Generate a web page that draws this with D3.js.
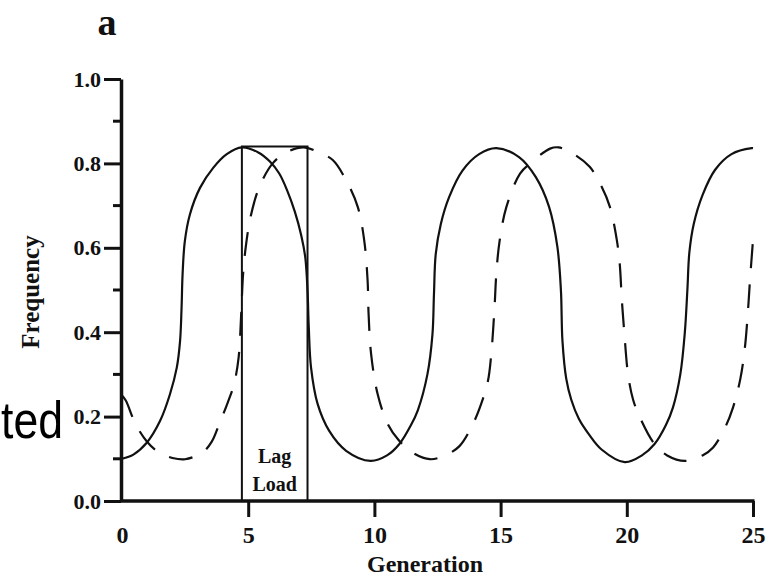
<!DOCTYPE html>
<html>
<head>
<meta charset="utf-8">
<script src="https://cdn.jsdelivr.net/npm/d3@7"></script>
<style>
  body { margin: 0; background: #fff; }
  svg { display: block; }
  .tick text { font-family: "Liberation Serif", "Times New Roman", serif; font-weight: bold; fill: #111; }
</style>
</head>
<body>
<div id="chart"></div>
<script>
  // values
  let solidGen = [0, 0.45, 0.98, 1.51, 1.9, 2.17, 2.3, 2.36, 2.4, 2.49, 2.69, 3.09, 3.62, 4.15, 4.75,
    5.4, 5.85, 6.23, 6.55, 6.85, 7.1, 7.26, 7.35, 7.4, 7.49, 7.75, 8.21, 8.88, 9.85,
    10.5, 10.99, 11.45, 11.72, 12.1, 12.3, 12.36, 12.43, 12.63, 12.96, 13.49, 14.15, 14.83,
    15.73, 16.39, 16.92, 17.25, 17.39, 17.45, 17.6, 17.8, 18.1, 18.5, 19.0, 19.92,
    20.6, 21.1, 21.55, 21.83, 22.12, 22.3, 22.4, 22.48, 22.65, 23.0, 23.5, 24.15, 24.95, 25];
  let solidFreq = [0.10, 0.11, 0.138, 0.19, 0.253, 0.316, 0.379, 0.458, 0.537, 0.616, 0.679, 0.742, 0.79, 0.822, 0.838,
    0.826, 0.805, 0.776, 0.735, 0.685, 0.63, 0.578, 0.499, 0.412, 0.316, 0.23, 0.166, 0.119, 0.095,
    0.108, 0.135, 0.18, 0.215, 0.30, 0.395, 0.49, 0.585, 0.656, 0.72, 0.783, 0.822, 0.836,
    0.815, 0.768, 0.697, 0.602, 0.499, 0.38, 0.29, 0.24, 0.195, 0.158, 0.122, 0.092,
    0.108, 0.135, 0.18, 0.222, 0.30, 0.40, 0.50, 0.59, 0.656, 0.725, 0.785, 0.822, 0.836, 0.836];

  let dashedGen = [0, 0.15, 0.54, 1.0, 1.47, 2.0, 2.5, 3.19, 3.55, 3.85, 4.2, 4.44, 4.62, 4.72, 4.8, 4.92, 5.1, 5.44, 5.97, 6.5, 7.2,
    7.8, 8.35, 8.88, 9.34, 9.6, 9.73, 9.77, 9.87, 10.13, 10.53, 10.95, 11.5, 12.2,
    12.8, 13.37, 13.9, 14.23, 14.5, 14.63, 14.76, 14.83, 14.96, 15.23, 15.77, 16.17, 16.96, 17.3,
    17.9, 18.53, 19.0, 19.33, 19.6, 19.72, 19.8, 19.9, 20.05, 20.25, 20.52, 21.1, 21.6, 22.3,
    23.0, 23.42, 23.9, 24.21, 24.5, 24.68, 24.8, 24.88, 25];
  let dashedFreq = [0.25, 0.238, 0.182, 0.14, 0.115, 0.102, 0.099, 0.115, 0.14, 0.182, 0.235, 0.277, 0.34, 0.44, 0.54, 0.61, 0.675, 0.744, 0.80, 0.826, 0.838,
    0.826, 0.808, 0.76, 0.697, 0.616, 0.523, 0.443, 0.348, 0.253, 0.182, 0.145, 0.115, 0.099,
    0.108, 0.13, 0.182, 0.23, 0.285, 0.348, 0.459, 0.538, 0.616, 0.697, 0.776, 0.80, 0.835, 0.838,
    0.822, 0.792, 0.745, 0.697, 0.62, 0.562, 0.48, 0.40, 0.30, 0.24, 0.198, 0.135, 0.108, 0.095,
    0.108, 0.127, 0.175, 0.222, 0.29, 0.364, 0.45, 0.523, 0.618];

  let xTicks = [0, 5, 10, 15, 20, 25];
  let yTicks = [0, 0.2, 0.4, 0.6, 0.8, 1.0];
  let yMinor = [0.1, 0.3, 0.5, 0.7, 0.9];
  let lagBox = [4.75, 7.35, 0.84]; // from, to, height

  let width = 771;
  let height = 578;
  let ink = '#111';

  let svg = d3.select('#chart')
  .append('svg')
  .attr('width', width)
  .attr('height', height);

  let x = d3.scaleLinear().domain([0, 25]).range([122, 753]);
  let y = d3.scaleLinear().domain([0, 1]).range([501, 79]);

  let line = d3.line()
  .x((d) => x(d[0]))
  .y((d) => y(d[1]))
  .curve(d3.curveCatmullRom.alpha(0.5));

  svg.append('path')
  .datum(d3.zip(solidGen, solidFreq))
  .attr('d', line)
  .attr('fill', 'none')
  .attr('stroke', ink)
  .attr('stroke-width', 2.2);

  svg.append('path')
  .datum(d3.zip(dashedGen, dashedFreq))
  .attr('d', line)
  .attr('fill', 'none')
  .attr('stroke', ink)
  .attr('stroke-width', 2.2)
  .attr('stroke-dasharray', '24,16');

  // lag load box
  svg.append('path')
  .attr('d', `M${x(lagBox[0])},${y(0)}V${y(lagBox[2])}H${x(lagBox[1])}V${y(0)}`)
  .attr('fill', 'none')
  .attr('stroke', ink)
  .attr('stroke-width', 2);

  let serif = '"Liberation Serif", "Times New Roman", serif';
  let cx = (x(lagBox[0]) + x(lagBox[1])) / 2;
  [['Lag', 463], ['Load', 491]].forEach((t) => {
    svg.append('text')
    .attr('x', cx)
    .attr('y', t[1])
    .attr('text-anchor', 'middle')
    .attr('font-family', serif)
    .attr('font-weight', 'bold')
    .attr('font-size', 20)
    .attr('fill', ink)
    .text(t[0]);
  });

  // axes
  let xAxis = svg.append('g')
  .attr('transform', `translate(0,${y(0)})`)
  .call(d3.axisBottom(x).tickValues(xTicks).tickSize(16).tickSizeOuter(0).tickFormat(d3.format('d')));
  xAxis.selectAll('.tick line').attr('stroke-width', 3).attr('stroke', ink);
  xAxis.selectAll('.tick text').attr('y', 42).attr('dy', null).attr('font-size', 24);
  xAxis.select('.domain').attr('stroke-width', 3.5).attr('stroke', ink)
  .attr('d', `M${x(0) - 1.75},0H${x(25) + 1.5}`);
  xAxis.selectAll('.tick').filter((d) => d === 0).select('line').remove();

  let yAxis = svg.append('g')
  .attr('transform', `translate(${x(0) - 1},0)`)
  .call(d3.axisLeft(y).tickValues(yTicks).tickSize(17).tickSizeOuter(0).tickPadding(3).tickFormat(d3.format('.1f')));
  yAxis.selectAll('.tick line').attr('stroke-width', 3).attr('stroke', ink);
  yAxis.selectAll('.tick text').attr('font-size', 22);
  yAxis.select('.domain').attr('stroke-width', 3.5).attr('stroke', ink);

  svg.append('g')
  .attr('transform', `translate(${x(0) - 1},0)`)
  .selectAll('line')
  .data(yMinor)
  .enter().append('line')
  .attr('x1', -8)
  .attr('x2', 0)
  .attr('y1', (d) => y(d))
  .attr('y2', (d) => y(d))
  .attr('stroke', ink)
  .attr('stroke-width', 3);

  // titles
  svg.append('text')
  .attr('x', 425)
  .attr('y', 572)
  .attr('text-anchor', 'middle')
  .attr('font-family', serif)
  .attr('font-weight', 'bold')
  .attr('font-size', 24)
  .attr('fill', ink)
  .text('Generation');

  svg.append('text')
  .attr('transform', 'translate(39,292) rotate(-90)')
  .attr('text-anchor', 'middle')
  .attr('font-family', serif)
  .attr('font-weight', 'bold')
  .attr('font-size', 25)
  .attr('fill', ink)
  .text('Frequency');

  svg.append('text')
  .attr('x', 107)
  .attr('y', 35)
  .attr('text-anchor', 'middle')
  .attr('font-family', serif)
  .attr('font-weight', 'bold')
  .attr('font-size', 38)
  .attr('fill', ink)
  .text('a');

  // stray text fragment at the left edge
  svg.append('text')
  .attr('x', 1)
  .attr('y', 438)
  .attr('font-family', '"Liberation Sans", Arial, sans-serif')
  .attr('font-size', 52)
  .attr('textLength', 62)
  .attr('lengthAdjust', 'spacingAndGlyphs')
  .attr('fill', '#000')
  .text('ted');
</script>
</body>
</html>
